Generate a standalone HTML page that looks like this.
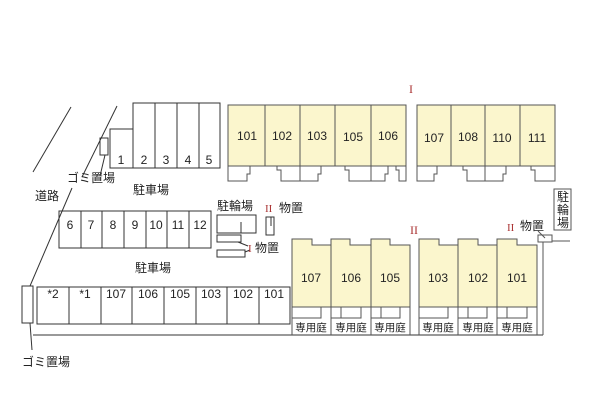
<!DOCTYPE html>
<html><head><meta charset="utf-8"><style>
html,body{margin:0;padding:0;background:#fff;}
svg{display:block;font-family:"Liberation Sans","Noto Sans CJK JP",sans-serif;}
</style></head><body>
<svg width="600" height="400" viewBox="0 0 600 400" xmlns="http://www.w3.org/2000/svg">
<g stroke="#333" stroke-width="1" fill="none">
<line x1="33" y1="172" x2="71" y2="107"/>
<line x1="117" y1="106" x2="82" y2="177"/>
<line x1="72" y1="188" x2="30" y2="286"/>
<path d="M110,168 V129 H133 V103 H220 V168 Z"/>
<line x1="133" y1="129" x2="133" y2="168"/>
<line x1="155" y1="103" x2="155" y2="168"/>
<line x1="177" y1="103" x2="177" y2="168"/>
<line x1="199" y1="103" x2="199" y2="168"/>
<rect x="100" y="138" width="8" height="17"/>
<line x1="105" y1="155" x2="100" y2="176"/>
<rect x="59" y="211" width="152" height="37"/>
<line x1="81" y1="211" x2="81" y2="248"/><line x1="102" y1="211" x2="102" y2="248"/>
<line x1="124" y1="211" x2="124" y2="248"/><line x1="146" y1="211" x2="146" y2="248"/>
<line x1="167" y1="211" x2="167" y2="248"/><line x1="189" y1="211" x2="189" y2="248"/>
<rect x="217" y="215" width="39" height="18"/>
<line x1="241" y1="222" x2="241" y2="233"/>
<rect x="217" y="235" width="24" height="7"/>
<rect x="217" y="250" width="28" height="7"/>
<line x1="238" y1="242" x2="248" y2="246"/>
<line x1="245" y1="252" x2="250" y2="250"/>
<rect x="266" y="217" width="8" height="18"/>
<line x1="271" y1="217" x2="271" y2="226"/>
<rect x="37" y="287" width="253" height="37"/>
<line x1="69" y1="287" x2="69" y2="324"/><line x1="101" y1="287" x2="101" y2="324"/>
<line x1="132" y1="287" x2="132" y2="324"/><line x1="164" y1="287" x2="164" y2="324"/>
<line x1="196" y1="287" x2="196" y2="324"/><line x1="227" y1="287" x2="227" y2="324"/>
<line x1="259" y1="287" x2="259" y2="324"/>
<line x1="33" y1="335" x2="543" y2="335"/>
<rect x="22" y="286" width="11" height="37"/>
<line x1="30" y1="323" x2="32" y2="350"/>
</g>
<g stroke="#555" stroke-width="1">
<rect x="228" y="105" width="178" height="61" fill="#fbf6cd"/>
<rect x="417" y="105" width="138" height="61" fill="#fbf6cd"/>
<line x1="265" y1="105" x2="265" y2="166"/><line x1="300" y1="105" x2="300" y2="166"/>
<line x1="335" y1="105" x2="335" y2="166"/><line x1="371" y1="105" x2="371" y2="166"/>
<line x1="451" y1="105" x2="451" y2="166"/><line x1="485" y1="105" x2="485" y2="166"/>
<line x1="520" y1="105" x2="520" y2="166"/>
</g>
<g stroke="#555" stroke-width="1" fill="none">
<path d="M228,166 V181 H247 V174 H250 V166"/>
<path d="M277,166 V170 H281 V181 H300 V166 M300,181 H318 V174 H321 V166"/>
<path d="M345,166 V170 H349 V181 H371 V166 M371,181 H385 V174 H388 V166"/>
<path d="M396,166 V170 H399 V181 H406 V166"/>
<path d="M417,166 V181 H434 V174 H437 V166"/>
<path d="M463,166 V170 H467 V181 H485 V166 M485,181 H503 V174 H506 V166"/>
<path d="M531,166 V170 H535 V181 H555 V166"/>
</g>
<g stroke="#555" stroke-width="1">
<path d="M292,307 V239 H312 V245 H331 V239 H350 V245 H371 V239 H390 V245 H410 V307 Z" fill="#fbf6cd"/>
<path d="M419,307 V239 H439 V245 H458 V239 H478 V245 H497 V239 H517 V245 H537 V307 Z" fill="#fbf6cd"/>
<line x1="331" y1="239" x2="331" y2="335"/><line x1="371" y1="239" x2="371" y2="335"/>
<line x1="458" y1="239" x2="458" y2="335"/><line x1="497" y1="239" x2="497" y2="335"/>
<line x1="292" y1="307" x2="292" y2="335"/><line x1="410" y1="307" x2="410" y2="335"/>
<line x1="419" y1="307" x2="419" y2="335"/><line x1="537" y1="307" x2="537" y2="335"/>
<g fill="none">
<path d="M321,307 V318 H292 M331,318 H341 V307"/>
<path d="M361,307 V318 H331 M371,318 H381 V307"/>
<path d="M400,307 V318 H371"/>
<path d="M448,307 V318 H419 M458,318 H468 V307"/>
<path d="M487,307 V318 H458 M497,318 H507 V307"/>
<path d="M527,307 V318 H497"/>
</g>
<line x1="543" y1="241" x2="543" y2="335"/>
<line x1="540" y1="241" x2="570" y2="241"/>
<rect x="538" y="235" width="14" height="7" fill="#fff"/>
<rect x="554" y="189" width="17" height="41" fill="#fff"/>
<line x1="538" y1="231" x2="545" y2="238"/>
</g>
<g font-size="12" fill="#222" text-anchor="middle">
<text x="247" y="140">101</text><text x="282" y="140">102</text><text x="317" y="140">103</text>
<text x="353" y="141">105</text><text x="388" y="140">106</text>
<text x="434" y="142">107</text><text x="468" y="141">108</text><text x="502" y="142">110</text><text x="537" y="142">111</text>
<text x="121" y="164">1</text><text x="144" y="164">2</text><text x="166" y="164">3</text><text x="188" y="164">4</text><text x="209" y="164">5</text>
<text x="70" y="229">6</text><text x="91" y="229">7</text><text x="113" y="229">8</text><text x="135" y="229">9</text>
<text x="156" y="229">10</text><text x="178" y="229">11</text><text x="200" y="229">12</text>
<text x="53" y="298">*2</text><text x="85" y="298">*1</text><text x="116" y="298">107</text><text x="148" y="298">106</text>
<text x="180" y="298">105</text><text x="211" y="298">103</text><text x="243" y="298">102</text><text x="274" y="298">101</text>
<text x="311" y="282">107</text><text x="351" y="282">106</text><text x="390" y="282">105</text>
<text x="438" y="282">103</text><text x="478" y="282">102</text><text x="517" y="282">101</text>
</g>
<g font-size="10.5" fill="#222" text-anchor="middle">
<text x="311" y="331">専用庭</text><text x="351" y="331">専用庭</text><text x="390" y="331">専用庭</text>
<text x="438" y="331">専用庭</text><text x="478" y="331">専用庭</text><text x="517" y="331">専用庭</text>
</g>
<g font-size="12" fill="#222">
<text x="67" y="182">ゴミ置場</text>
<text x="35" y="200">道路</text>
<text x="133" y="194">駐車場</text>
<text x="135" y="272">駐車場</text>
<text x="217" y="210">駐輪場</text>
<text x="279" y="212">物置</text>
<text x="255" y="252">物置</text>
<text x="520" y="230">物置</text>
<text x="22" y="366">ゴミ置場</text>
<text x="557" y="201">駐</text><text x="557" y="214">輪</text><text x="557" y="227">場</text>
</g>
<g fill="#a33" font-family="Liberation Serif,serif" font-size="11">
<text x="409" y="93" font-size="12">I</text>
<text x="265" y="212">II</text>
<text x="248" y="252">I</text>
<text x="410" y="234" font-size="12">II</text>
<text x="507" y="231">II</text>
</g>
</svg>
</body></html>
